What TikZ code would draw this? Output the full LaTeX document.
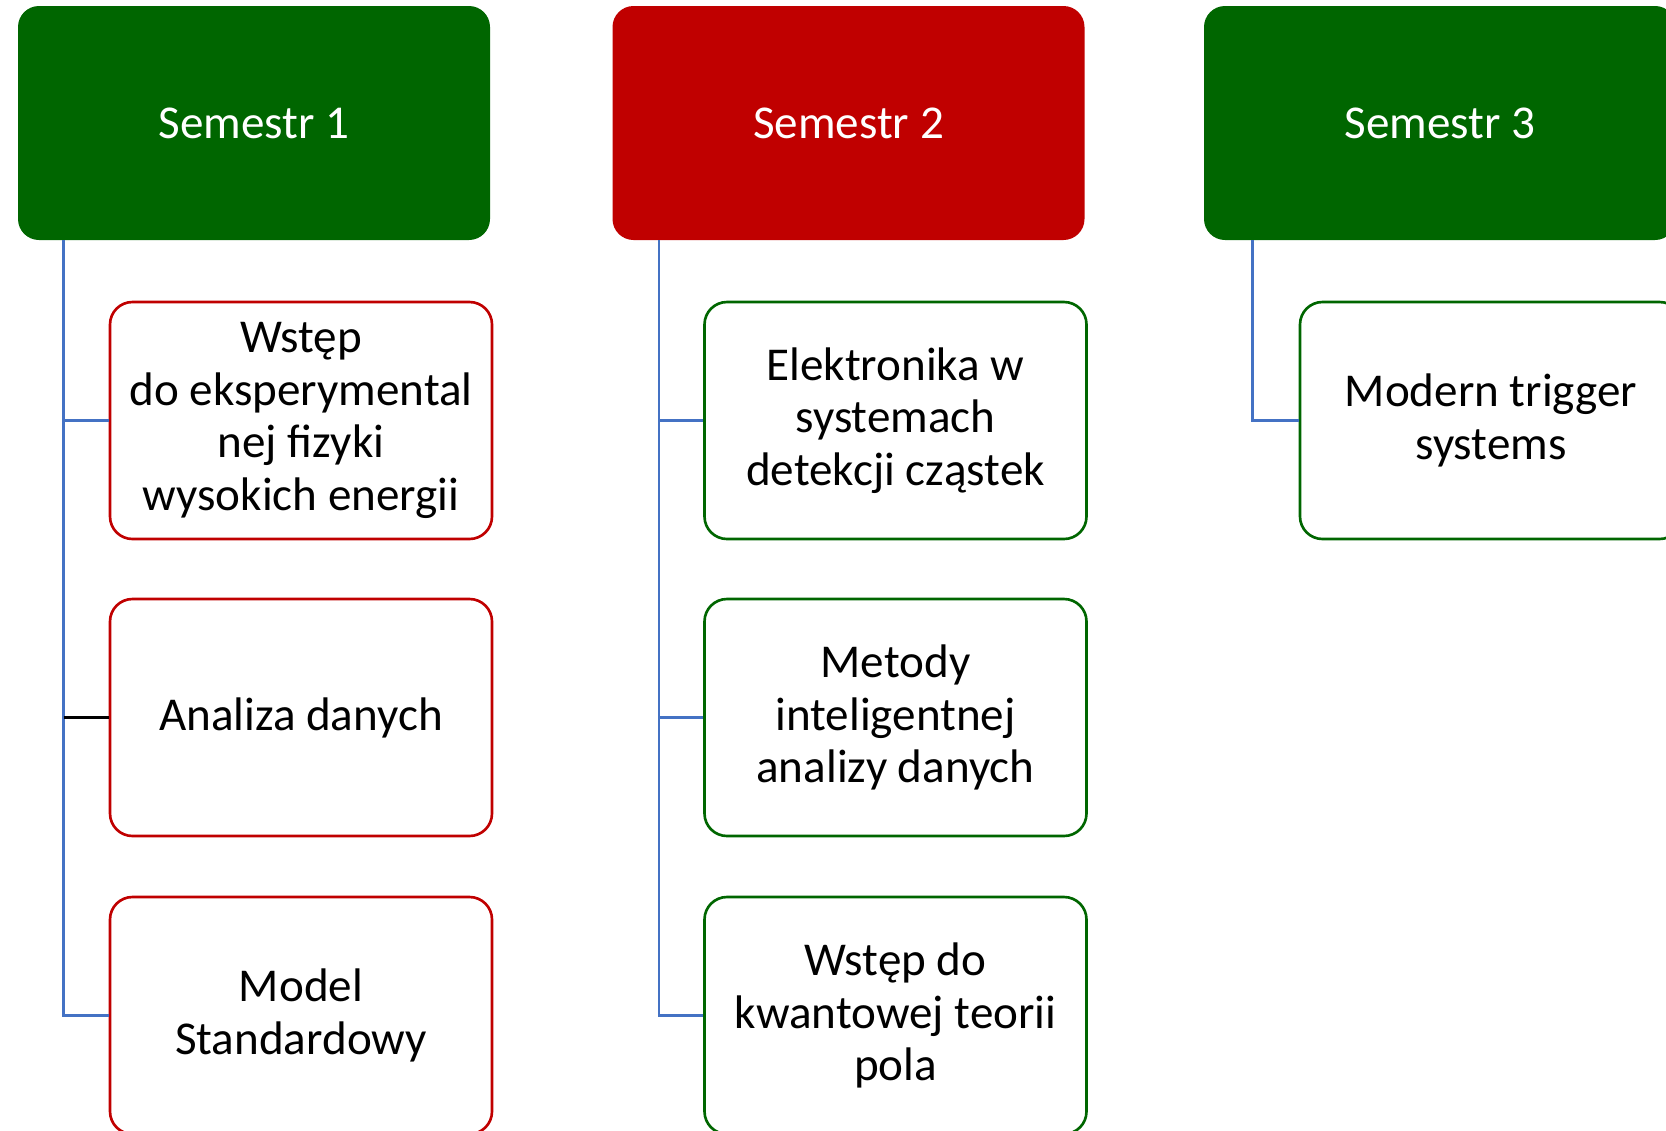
\documentclass[tikz,border=0pt]{standalone}
\usepackage{fontspec}
\setmainfont{Carlito}

\definecolor{semgreen}{RGB}{0,102,0}
\definecolor{semred}{RGB}{192,0,0}
\definecolor{linkblue}{RGB}{68,114,196}

\tikzset{
  semester/.style={rounded corners=0.42cm, minimum width=9.44cm, minimum height=4.68cm,
    text=white, inner sep=0pt, font=\fontsize{26.8}{30}\selectfont},
  course/.style={draw, line width=1.5pt, fill=white, rounded corners=0.45cm,
    minimum width=7.64cm, minimum height=4.74cm, inner sep=0pt, align=center,
    font=\fontsize{26.8}{30}\selectfont},
  link/.style={linkblue, line width=1.5pt},
}

\begin{document}
\begin{tikzpicture}
        \useasboundingbox (0,0) rectangle (33.32,-22.6);

        % Semestr 1
        \node[semester, fill=semgreen] (s1) at (5.08,-2.46) {Semestr 1};
        \node[course, draw=semred] (c11) at (6.02,-8.41) {Wstęp\\do eksperymental\\nej fizyki\\wysokich energii};
        \node[course, draw=semred] (c12) at (6.02,-14.35) {Analiza danych};
        \node[course, draw=semred] (c13) at (6.02,-20.31) {Model\\Standardowy};

        % Semestr 2
        \node[semester, fill=semred] (s2) at (16.97,-2.46) {Semestr 2};
        \node[course, draw=semgreen] (c21) at (17.91,-8.41) {Elektronika w\\systemach\\detekcji cząstek};
        \node[course, draw=semgreen] (c22) at (17.91,-14.35) {Metody\\inteligentnej\\analizy danych};
        \node[course, draw=semgreen] (c23) at (17.91,-20.31) {Wstęp do\\kwantowej teorii\\pola};

        % Semestr 3
        \node[semester, fill=semgreen] (s3) at (28.8,-2.46) {Semestr 3};
        \node[course, draw=semgreen] (c31) at (29.82,-8.41) {Modern trigger\\systems};

        % Connectors
        \path (s1.south west) ++(0.92,0) coordinate (t1);
        \path (s2.south west) ++(0.94,0) coordinate (t2);
        \path (s3.south west) ++(0.98,0) coordinate (t3);

        \draw[link] (t1) |- (c13.west);
        \draw[link] (t1) |- (c11.west);
        \draw[black, line width=1.5pt] (t1 |- c12.west) -- (c12.west);

        \draw[link] (t2) |- (c23.west);
        \draw[link] (t2) |- (c21.west);
        \draw[link] (t2 |- c22.west) -- (c22.west);

        \draw[link] (t3) |- (c31.west);
      \end{tikzpicture}
\end{document}
